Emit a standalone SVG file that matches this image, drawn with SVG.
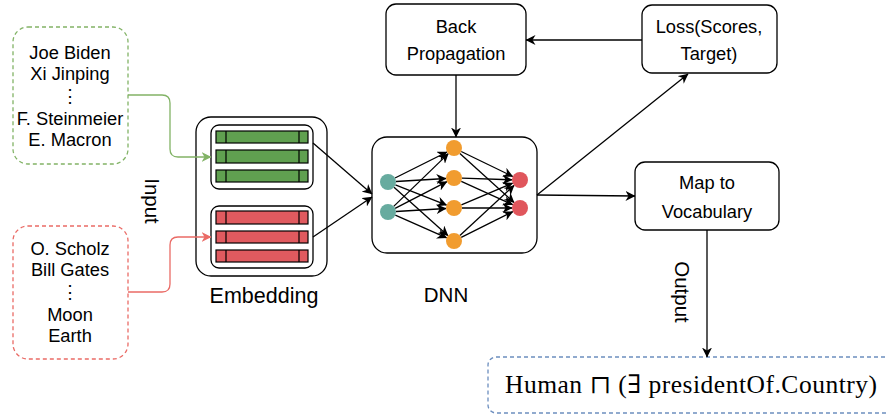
<svg xmlns="http://www.w3.org/2000/svg" width="888" height="415" viewBox="0 0 888 415">
<style>
text{font-family:"Liberation Sans",Arial,sans-serif;fill:#000}
.t{font-size:18.3px;text-anchor:middle}
.big{font-size:20.5px;text-anchor:middle}
.box{fill:#fff;stroke:#000;stroke-width:1.3}
.c{fill:none;stroke:#000;stroke-width:1.3}
.gbar{fill:#60a050;stroke:#000;stroke-width:1.2}
.rbar{fill:#e05a5f;stroke:#000;stroke-width:1.2}
.div{stroke:#000;stroke-width:1.2}
.math{font-family:"Liberation Serif","DejaVu Serif",serif;font-size:25.5px}
</style>
<defs>
<marker id="ah" viewBox="0 0 10 10" refX="9.5" refY="5" markerWidth="10" markerHeight="10" markerUnits="userSpaceOnUse" orient="auto">
<path d="M0,0 L10,5 L0,10 L3,5 z" fill="#000"/>
</marker>
<marker id="ahg" viewBox="0 0 10 10" refX="9.5" refY="5" markerWidth="10" markerHeight="10" markerUnits="userSpaceOnUse" orient="auto">
<path d="M0,0 L10,5 L0,10 L3,5 z" fill="#82b366"/>
</marker>
<marker id="ahr" viewBox="0 0 10 10" refX="9.5" refY="5" markerWidth="10" markerHeight="10" markerUnits="userSpaceOnUse" orient="auto">
<path d="M0,0 L10,5 L0,10 L3,5 z" fill="#ea6b66"/>
</marker>
</defs>

<g id="input-green">
<rect x="13" y="27" width="115" height="137" rx="15" fill="#fff" stroke="#82b366" stroke-width="1.3" stroke-dasharray="4 3"/>
<text class="t" x="70" y="59">Joe Biden</text>
<text class="t" x="70" y="80">Xi Jinping</text>
<text class="t" x="70" y="102">⋮</text>
<text class="t" x="70" y="125">F. Steinmeier</text>
<text class="t" x="70" y="146">E. Macron</text>
</g>

<g id="input-red">
<rect x="13" y="226" width="115" height="133" rx="15" fill="#fff" stroke="#ea6b66" stroke-width="1.3" stroke-dasharray="4 3"/>
<text class="t" x="70" y="255">O. Scholz</text>
<text class="t" x="70" y="276">Bill Gates</text>
<text class="t" x="70" y="298">⋮</text>
<text class="t" x="70" y="321">Moon</text>
<text class="t" x="70" y="342">Earth</text>
</g>

<g id="input-label">
<text class="big" transform="translate(145,201) rotate(90)">Input</text>
</g>

<g id="embedding">
<rect class="box" x="196" y="117" width="131" height="159" rx="15"/>
<rect class="box" x="211" y="125" width="102" height="64" rx="8"/>
<rect class="gbar" x="216" y="131" width="92" height="12"/>
<rect class="gbar" x="216" y="150" width="92" height="13"/>
<rect class="gbar" x="216" y="170" width="92" height="12"/>
<path class="div" d="M226,131V143M299,131V143M226,150V163M299,150V163M226,170V182M299,170V182"/>
<rect class="box" x="211" y="206" width="102" height="62" rx="8"/>
<rect class="rbar" x="216" y="211" width="92" height="13"/>
<rect class="rbar" x="216" y="231" width="92" height="12"/>
<rect class="rbar" x="216" y="250" width="92" height="12"/>
<path class="div" d="M226,211V224M299,211V224M226,231V243M299,231V243M226,250V262M299,250V262"/>
<text class="big" x="264" y="303" style="font-size:21.5px">Embedding</text>
</g>

<g id="dnn">
<rect class="box" x="372" y="137" width="165" height="116" rx="15"/>
<g id="dnn-edges" class="c" stroke-width="1.3" marker-end="url(#ah)">
<line x1="395" y1="178" x2="447" y2="152"/>
<line x1="396" y1="181.5" x2="446" y2="178.5"/>
<line x1="395.4" y1="184.9" x2="446.6" y2="205.1"/>
<line x1="394" y1="187.3" x2="448" y2="235.7"/>
<line x1="393.7" y1="206.4" x2="448.3" y2="153.6"/>
<line x1="395.1" y1="208.3" x2="446.9" y2="181.7"/>
<line x1="396" y1="211.5" x2="446" y2="208.5"/>
<line x1="395.3" y1="215.2" x2="446.7" y2="237.8"/>
<line x1="461.2" y1="151.5" x2="512.8" y2="176.5"/>
<line x1="459.9" y1="153.4" x2="514.1" y2="202.6"/>
<line x1="462" y1="178.2" x2="512" y2="179.8"/>
<line x1="461.3" y1="181.3" x2="512.7" y2="204.7"/>
<line x1="461.4" y1="204.9" x2="512.6" y2="183.1"/>
<line x1="462" y1="208" x2="512" y2="208"/>
<line x1="459.9" y1="235.6" x2="514.1" y2="185.4"/>
<line x1="461.2" y1="237.4" x2="512.8" y2="211.6"/>
</g>
<circle cx="388" cy="182" r="8" fill="#67ab9f"/>
<circle cx="388" cy="212" r="8" fill="#67ab9f"/>
<circle cx="454" cy="148" r="8" fill="#f19c2f"/>
<circle cx="454" cy="178" r="8" fill="#f19c2f"/>
<circle cx="454" cy="208" r="8" fill="#f19c2f"/>
<circle cx="454" cy="241" r="8" fill="#f19c2f"/>
<circle cx="520" cy="180" r="8" fill="#e0565c"/>
<circle cx="520" cy="208" r="8" fill="#e0565c"/>
<text class="big" x="446" y="302">DNN</text>
</g>

<g id="backprop">
<rect class="box" x="386" y="4" width="140" height="71" rx="10"/>
<text class="t" x="456" y="33">Back</text>
<text class="t" x="456" y="60">Propagation</text>
</g>

<g id="loss">
<rect class="box" x="642" y="5" width="135" height="68" rx="10"/>
<text class="t" x="709" y="33">Loss(Scores,</text>
<text class="t" x="709" y="60">Target)</text>
</g>

<g id="map">
<rect class="box" x="635" y="162" width="144" height="68" rx="10"/>
<text class="t" x="707" y="189">Map to</text>
<text class="t" x="707" y="218">Vocabulary</text>
</g>

<g id="output-label">
<text class="big" transform="translate(675,292) rotate(90)">Output</text>
</g>

<g id="output">
<rect x="488" y="357" width="420" height="56" rx="8" fill="#fff" stroke="#6c8ebf" stroke-width="1.3" stroke-dasharray="4 3"/>
<text class="math" x="505" y="393" textLength="372" lengthAdjust="spacing">Human ⊓ (∃ presidentOf.Country)</text>
</g>

<g id="connectors">
<path d="M128,95 H162 Q170,95 170,103 V149 Q170,157 178,157 H211" fill="none" stroke="#82b366" stroke-width="1.3" marker-end="url(#ahg)"/>
<path d="M128,292 H162 Q170,292 170,284 V245 Q170,237 178,237 H211" fill="none" stroke="#ea6b66" stroke-width="1.3" marker-end="url(#ahr)"/>
<line class="c" x1="313" y1="143" x2="372" y2="194" marker-end="url(#ah)"/>
<line class="c" x1="313" y1="237" x2="372" y2="197" marker-end="url(#ah)"/>
<line class="c" x1="456" y1="75" x2="456" y2="137" marker-end="url(#ah)"/>
<line class="c" x1="642" y1="40" x2="526" y2="40" marker-end="url(#ah)"/>
<line class="c" x1="537" y1="195" x2="688" y2="74" marker-end="url(#ah)"/>
<line class="c" x1="537" y1="195" x2="635" y2="196" marker-end="url(#ah)"/>
<line class="c" x1="707" y1="230" x2="707" y2="357" marker-end="url(#ah)"/>
</g>
</svg>
